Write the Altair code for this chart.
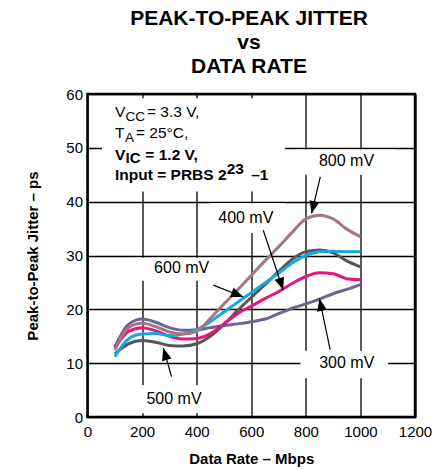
import math
import altair as alt
import pandas as pd

# ---------------- data ----------------
rates = [100, 150, 200, 250, 300, 350, 400, 450, 500, 550, 600, 650, 700, 750, 800, 850, 900, 950, 1000]
j800 = [12.4, 16.6, 17.4, 16.8, 15.8, 15.4, 15.9, 18.3, 21.0, 23.6, 26.3, 29.0, 31.6, 34.3, 36.8, 37.5, 36.8, 34.9, 33.5]
j600 = [11.2, 14.5, 15.4, 15.5, 15.1, 15.4, 16.2, 17.7, 19.5, 21.3, 23.1, 24.9, 26.7, 28.6, 30.0, 30.7, 30.8, 30.7, 30.7]
j500 = [11.7, 13.6, 14.2, 13.9, 13.3, 13.2, 13.6, 15.0, 17.2, 19.8, 22.2, 24.6, 27.0, 29.3, 30.7, 31.0, 30.5, 29.0, 27.9]
j400 = [12.8, 15.9, 16.6, 16.0, 15.0, 14.5, 14.6, 15.5, 17.3, 19.2, 20.6, 22.0, 23.3, 24.8, 26.1, 26.8, 26.6, 25.7, 25.5]
j300 = [13.0, 17.2, 18.2, 17.6, 16.6, 16.1, 16.2, 16.6, 17.0, 17.3, 17.7, 18.2, 19.2, 20.2, 21.0, 21.9, 22.9, 23.7, 24.6]

series_names = ["300 mV", "500 mV", "400 mV", "600 mV", "800 mV"]
series_vals = [j300, j500, j400, j600, j800]
series_colors = ["#6c6590", "#555555", "#e8167c", "#17a8e2", "#a5767f"]

x_ticks = [0, 200, 400, 600, 800, 1000, 1200]
y_ticks = [0, 10, 20, 30, 40, 50, 60]
title_lines = ["PEAK-TO-PEAK JITTER", "vs", "DATA RATE"]

# curve labels (data-space anchor of each label)
label_text = ["800 mV", "400 mV", "600 mV", "500 mV", "300 mV"]
label_x = [949, 580, 345, 317, 950]
label_y = [47.6, 36.9, 27.6, 3.3, 10.0]

# arrows: start -> tip
arrow_x0 = [853, 644, 461, 308, 889]
arrow_y0 = [44.6, 34.7, 24.5, 7.5, 12.5]
arrow_x1 = [821, 717, 571, 278, 850]
arrow_y1 = [37.8, 23.6, 22.3, 12.8, 22.0]

# white boxes behind the texts (grid is interrupted there)
box_x0 = [53, 760, 449, 174, 174, 780]
box_x1 = [724, 1126, 724, 504, 456, 1102]
box_y0 = [41.9, 45.0, 34.2, 25.3, 0.7, 7.2]
box_y1 = [59.2, 49.7, 39.7, 29.6, 5.9, 12.3]

# conditions text block
cond_reg_text = ["V", "CC", "= 3.3 V,", "T", "A", "= 25°C,"]
cond_reg_x = [100.8, 139.2, 218.0, 100.8, 137.4, 177.7]
cond_reg_y = [55.67, 55.04, 55.67, 51.77, 51.14, 51.77]
cond_reg_size = [15.5, 13.5, 15.5, 15.5, 13.5, 15.5]
cond_bold_text = ["V", "IC", "= 1.2 V,", "Input = PRBS 2", "23", "–1"]
cond_bold_x = [100.8, 139.2, 212.0, 100.8, 510, 600]
cond_bold_y = [47.74, 47.24, 47.74, 44.03, 45.1, 44.03]
cond_bold_size = [15.5, 15, 15.5, 15.5, 15.5, 15.5]

# ---------------- geometry ----------------
W, H = 327.5, 323
PAD_L, PAD_T = 87.5, 94
PAD_R, PAD_B = 437 - PAD_L - W, 469 - PAD_T - H
FONT = "Liberation Sans"

rows = []
for name, vals in zip(series_names, series_vals):
    for r, v in zip(rates, vals):
        rows.append({"rate": r, "jitter": v, "series": name})
df = pd.DataFrame(rows)

xscale = alt.Scale(domain=[0, 1200], nice=False, zero=False)
yscale = alt.Scale(domain=[0, 60], nice=False, zero=False)

x_axis = alt.Axis(values=x_ticks, format="d", grid=True, gridColor="black", gridWidth=1.3, gridOpacity=1,
                  domain=False, ticks=False, labelFont=FONT, labelFontSize=15, labelColor="black",
                  labelPadding=7, labelFlush=False, title="Data Rate – Mbps", titleFont=FONT,
                  titleFontSize=15, titleFontWeight="bold", titleColor="black",
                  titleX=W / 2, titleY=41, titleBaseline="middle", titleAlign="center")
y_axis = alt.Axis(values=y_ticks, format="d", grid=True, gridColor="black", gridWidth=1.3, gridOpacity=1,
                  domain=False, ticks=False, labelFont=FONT, labelFontSize=15, labelColor="black",
                  labelPadding=5, labelFlush=False, title="Peak-to-Peak Jitter – ps", titleFont=FONT,
                  titleFontSize=15, titleFontWeight="bold", titleColor="black",
                  titleX=-55.5, titleY=H / 2, titleAngle=270, titleBaseline="middle", titleAlign="center")


def X(field):
    return alt.X(field, scale=xscale, axis=x_axis)


def Y(field):
    return alt.Y(field, scale=yscale, axis=y_axis)


box_df = pd.DataFrame({"x0": box_x0, "x1": box_x1, "y0": box_y0, "y1": box_y1})
boxes = alt.Chart(box_df).mark_rect(color="white", opacity=1).encode(
    x=X("x0:Q"), x2="x1:Q", y=Y("y0:Q"), y2="y1:Q",
)

lines = alt.Chart(df).mark_line(strokeWidth=3, interpolate="monotone").encode(
    x=X("rate:Q"),
    y=Y("jitter:Q"),
    color=alt.Color("series:N", scale=alt.Scale(domain=series_names, range=series_colors), legend=None),
    order=alt.Order("rate:Q"),
)

ang = []
for x0, y0, x1, y1 in zip(arrow_x0, arrow_y0, arrow_x1, arrow_y1):
    dxp = (x1 - x0) * W / 1200
    dyp_up = (y1 - y0) * H / 60
    ang.append(math.degrees(math.atan2(dxp, dyp_up)) % 360)
arrow_df = pd.DataFrame({"x0": arrow_x0, "y0": arrow_y0, "x1": arrow_x1, "y1": arrow_y1, "ang": ang})
arrow_lines = alt.Chart(arrow_df).mark_rule(color="black", strokeWidth=1.2).encode(
    x=X("x0:Q"), y=Y("y0:Q"), x2="x1:Q", y2="y1:Q",
)
arrow_heads = alt.Chart(arrow_df).mark_point(
    shape="M0,0 L-0.7,1.75 L0.7,1.75 Z", filled=True, color="black", opacity=1, size=200, strokeWidth=0
).encode(
    x=X("x1:Q"), y=Y("y1:Q"),
    angle=alt.Angle("ang:Q", scale=None),
)

lab_df = pd.DataFrame({"x": label_x, "y": label_y, "t": label_text})
labels = alt.Chart(lab_df).mark_text(font=FONT, fontSize=16, color="black", align="center", baseline="middle").encode(
    x=X("x:Q"), y=Y("y:Q"), text="t:N",
)

reg_df = pd.DataFrame({"x": cond_reg_x, "y": cond_reg_y, "t": cond_reg_text, "s": cond_reg_size})
cond_reg = alt.Chart(reg_df).mark_text(font=FONT, color="black", align="left", baseline="alphabetic").encode(
    x=X("x:Q"), y=Y("y:Q"), text="t:N", size=alt.Size("s:Q", scale=None),
)
bold_df = pd.DataFrame({"x": cond_bold_x, "y": cond_bold_y, "t": cond_bold_text, "s": cond_bold_size})
cond_bold = alt.Chart(bold_df).mark_text(font=FONT, fontWeight="bold", color="black", align="left",
                                         baseline="alphabetic").encode(
    x=X("x:Q"), y=Y("y:Q"), text="t:N", size=alt.Size("s:Q", scale=None),
)

title_df = pd.DataFrame({"t": title_lines, "yy": [25 - PAD_T, 49 - PAD_T, 73 - PAD_T]})
title = alt.Chart(title_df).mark_text(font=FONT, fontWeight="bold", fontSize=21, color="black",
                                      align="center", baseline="alphabetic").encode(
    x=alt.value(249 - PAD_L),
    y=alt.Y("yy:Q", scale=None, axis=None),
    text="t:N",
)

chart = alt.layer(boxes, lines, arrow_lines, arrow_heads, labels, cond_reg, cond_bold, title).properties(
    width=W, height=H,
    autosize=alt.AutoSizeParams(type="none"),
    padding={"left": PAD_L, "top": PAD_T, "right": PAD_R, "bottom": PAD_B},
    background="white",
).configure_view(stroke="black", strokeWidth=2.5)

chart.save("out.html", embed_options={"renderer": "svg", "actions": False})
